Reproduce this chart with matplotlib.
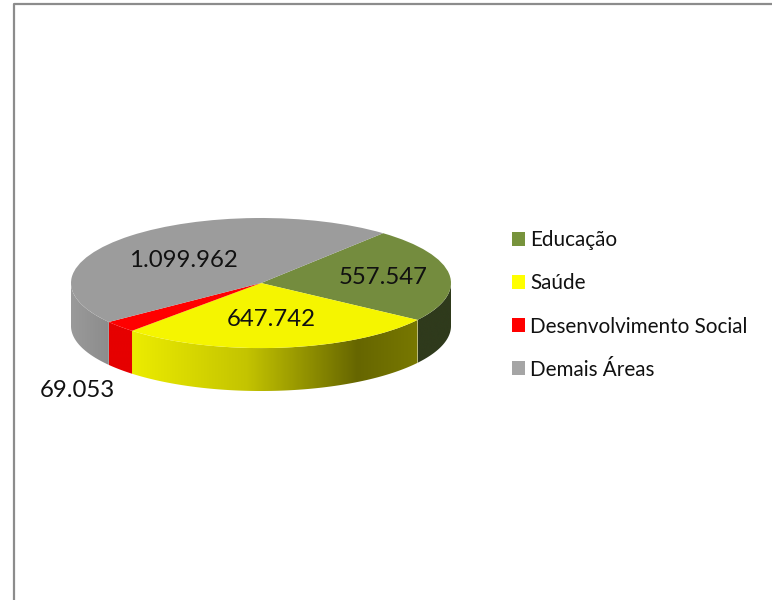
import numpy as np
import matplotlib
matplotlib.use('Agg')
import matplotlib.pyplot as plt
from matplotlib.colors import LinearSegmentedColormap
from matplotlib.lines import Line2D
from matplotlib.patches import Patch, Polygon

# Data
categories = ['Educação', 'Saúde', 'Desenvolvimento Social', 'Demais Áreas']
values = [557547, 647742, 69053, 1099962]
value_labels = ['557.547', '647.742', '69.053', '1.099.962']

# Colours
top_colors = ['#748c3e', '#f5f500', '#ff0000', '#9c9c9c']
legend_colors = ['#77933c', '#ffff00', '#ff0000', '#a5a5a5']
wall_ramps = [
    [(0, '#2f3a1c'), (1, '#2f3a1c')],
    [(0, '#ecec00'), (0.4, '#c4c400'), (0.79, '#666600'), (1, '#787800')],
    [(0, '#e60000'), (1, '#e60000')],
    [(0, '#9a9a9a'), (1, '#8c8c8c')],
]

# Layout (pie units: rx = ry = 1, squashed by the axes box)
depth = 0.66
start_angle = 50
label_pos = [(0.645, 0.08), (0.055, -0.56), (-0.967, -1.65), (-0.41, 0.35)]

plt.rcParams['font.family'] = ['Lato', 'DejaVu Sans']

W, H = 772, 600
fig = plt.figure(figsize=(W / 100, H / 100), dpi=100)
ax = fig.add_axes([71 / W, (H - 391) / H, 380 / W, 173 / H])

# Top of the pie
ax.pie(values, colors=top_colors, startangle=start_angle, counterclock=False,
       wedgeprops={'linewidth': 0})

# Side wall: a horizontal gradient clipped to the front part of each slice
fractions = np.cumsum([0] + values) / sum(values)
angles = start_angle - 360 * fractions
for i in range(len(values)):
    t = np.radians(np.linspace(angles[i + 1], angles[i], 500))
    t = t[np.sin(t) <= 0]
    x, y = np.cos(t), np.sin(t)
    outline = np.vstack([np.column_stack([x, y]),
                         np.column_stack([x[::-1], y[::-1] - depth])])
    cmap = LinearSegmentedColormap.from_list('wall', wall_ramps[i])
    im = ax.imshow(np.linspace(0, 1, 256)[None, :], cmap=cmap, aspect='auto',
                   extent=(x.min(), x.max(), -1 - depth, 0), zorder=0.5)
    im.set_clip_path(Polygon(outline, transform=ax.transData))

ax.set_aspect('auto')
ax.set_xlim(-1, 1)
ax.set_ylim(-1 - depth, 1)

# Value labels
for text, (lx, ly) in zip(value_labels, label_pos):
    ax.text(lx, ly, text, ha='center', va='center', fontsize=17.3, color='#111111', clip_on=False)

# Legend
handles = [Patch(facecolor=c, edgecolor='none') for c in legend_colors]
fig.legend(handles, categories, loc='center left', bbox_to_anchor=(495 / W, (H - 305) / H),
           frameon=False, fontsize=14.9, handlelength=0.65, handleheight=0.65,
           handletextpad=0.25, labelspacing=1.115, borderpad=0.3, labelcolor='#111111')

# Outer frame, only top and left are visible
fig.add_artist(Line2D([13.5 / W, 13.5 / W, 1], [0, (H - 3.5) / H, (H - 3.5) / H],
                      color='#8c8c8c', linewidth=1.6, transform=fig.transFigure))

fig.savefig('out.png', dpi=100)
